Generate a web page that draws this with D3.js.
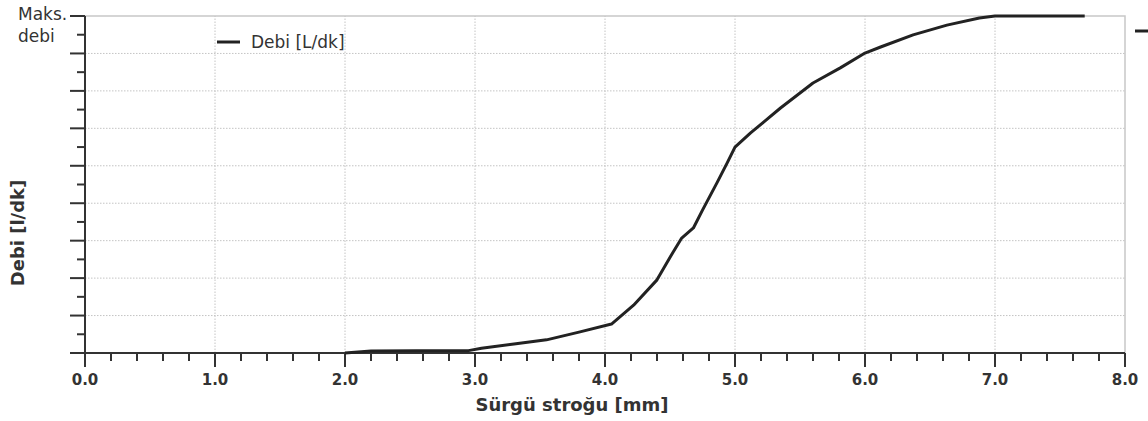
<!DOCTYPE html>
<html>
<head>
<meta charset="utf-8">
<script src="https://cdn.jsdelivr.net/npm/d3@7"></script>
<style>
  body { margin: 0; background: #fff; }
  svg text { font-family: "DejaVu Sans", Verdana, sans-serif; fill: #333; }
</style>
</head>
<body>
<div id="chart"></div>
<script>
// stroke position [mm] and relative flow [% of max]
const stroke = [2.0, 2.2, 2.55, 2.95, 3.05, 3.3, 3.55, 3.8, 4.05, 4.22, 4.4, 4.52, 4.59, 4.68, 4.75, 4.86, 4.94, 5.0, 5.12, 5.22, 5.35, 5.6, 5.81, 6.0, 6.12, 6.37, 6.63, 6.88, 7.0, 7.69];
const flow = [0, 0.6, 0.7, 0.7, 1.4, 2.7, 3.9, 6.2, 8.6, 14.2, 21.7, 29.7, 34.1, 37.1, 42.4, 50.4, 56.4, 61.1, 65.3, 68.5, 72.7, 80.1, 84.6, 89.0, 90.8, 94.4, 97.3, 99.4, 100, 100];
const xTickLabels = ['0.0', '1.0', '2.0', '3.0', '4.0', '5.0', '6.0', '7.0', '8.0'];
const seriesName = 'Debi [L/dk]';

const width = 1148, height = 421;
const margin = { top: 16, right: 23, bottom: 68, left: 85 };

var svg = d3.select('#chart').append('svg')
  .attr('width', width)
  .attr('height', height);

var x = d3.scaleLinear().domain([0, 8]).range([margin.left, width - margin.right]);
var y = d3.scaleLinear().domain([0, 100]).range([height - margin.bottom, margin.top]);

var majorY = d3.range(0, 10).map(i => i * 100 / 9);
var minorY = d3.range(0, 9).map(i => (i + 0.5) * 100 / 9);
var majorX = d3.range(0, 9);
var minorX = d3.range(0, 41).map(i => i * 0.2).filter(v => Math.abs(v - Math.round(v)) > 0.01);

// plot frame (top/right)
svg.append('path')
  .attr('d', `M${x(0)},${y(100)}H${x(8)}V${y(0)}`)
  .attr('fill', 'none')
  .attr('stroke', '#c8c8c8')
  .attr('stroke-width', 1.5);

// dotted grid
svg.append('g').selectAll('line')
  .data(majorX.slice(1, -1)).enter()
  .append('line')
  .attr('x1', d => x(d)).attr('x2', d => x(d))
  .attr('y1', y(0)).attr('y2', y(100))
  .attr('stroke', '#c4c4c4')
  .attr('stroke-dasharray', '1.5,1.5');
svg.append('g').selectAll('line')
  .data(majorY.slice(1, -1)).enter()
  .append('line')
  .attr('x1', x(0)).attr('x2', x(8))
  .attr('y1', d => y(d)).attr('y2', d => y(d))
  .attr('stroke', '#c4c4c4')
  .attr('stroke-dasharray', '1.5,1.5');

// x axis
var xAxis = svg.append('g').attr('transform', `translate(0,${y(0)})`);
xAxis.append('line')
  .attr('x1', x(0) - 15).attr('x2', x(8))
  .attr('stroke', '#333').attr('stroke-width', 2);
xAxis.selectAll('.major').data(majorX).enter()
  .append('line')
  .attr('x1', d => x(d)).attr('x2', d => x(d))
  .attr('y1', 0).attr('y2', 14)
  .attr('stroke', '#333').attr('stroke-width', 2);
xAxis.selectAll('.minor').data(minorX).enter()
  .append('line')
  .attr('x1', d => x(d)).attr('x2', d => x(d))
  .attr('y1', 0).attr('y2', 8)
  .attr('stroke', '#333').attr('stroke-width', 2);
xAxis.selectAll('text').data(majorX).enter()
  .append('text')
  .attr('x', d => x(d))
  .attr('y', 32)
  .attr('text-anchor', 'middle')
  .style('font-size', '15px')
  .style('font-weight', 'bold')
  .text(d => xTickLabels[d]);

// y axis
var yAxis = svg.append('g').attr('transform', `translate(${x(0)},0)`);
yAxis.append('line')
  .attr('y1', y(100)).attr('y2', y(0) + 14)
  .attr('stroke', '#333').attr('stroke-width', 2);
yAxis.selectAll('.major').data(majorY).enter()
  .append('line')
  .attr('x1', -15).attr('x2', 0)
  .attr('y1', d => y(d)).attr('y2', d => y(d))
  .attr('stroke', '#333').attr('stroke-width', 2);
yAxis.selectAll('.minor').data(minorY).enter()
  .append('line')
  .attr('x1', -8).attr('x2', 0)
  .attr('y1', d => y(d)).attr('y2', d => y(d))
  .attr('stroke', '#333').attr('stroke-width', 2);

// "Maks. debi" label at the top of y axis
svg.append('text')
  .attr('x', 18).attr('y', 20)
  .style('font-size', '17px')
  .text('Maks.');
svg.append('text')
  .attr('x', 18).attr('y', 42)
  .style('font-size', '17px')
  .text('debi');

// axis titles
svg.append('text')
  .attr('x', 572)
  .attr('y', 411)
  .attr('text-anchor', 'middle')
  .style('font-size', '18px')
  .style('font-weight', 'bold')
  .text('Sürgü stroğu [mm]');
svg.append('text')
  .attr('transform', 'translate(24,233) rotate(-90)')
  .attr('text-anchor', 'middle')
  .style('font-size', '18px')
  .style('font-weight', 'bold')
  .text('Debi [l/dk]');

// curve
var points = stroke.map((s, i) => [s, flow[i]]);
var line = d3.line()
  .x(d => x(d[0]))
  .y(d => y(d[1]));
svg.append('path')
  .datum(points)
  .attr('d', line)
  .attr('fill', 'none')
  .attr('stroke', '#222')
  .attr('stroke-width', 3)
  .attr('stroke-linejoin', 'round');

// legend
svg.append('line')
  .attr('x1', 217).attr('x2', 240)
  .attr('y1', 42).attr('y2', 42)
  .attr('stroke', '#222').attr('stroke-width', 3);
svg.append('text')
  .attr('x', 251).attr('y', 48)
  .style('font-size', '17px')
  .text(seriesName);

// clipped second legend marker on the right edge
svg.append('line')
  .attr('x1', 1135).attr('x2', 1150)
  .attr('y1', 31).attr('y2', 31)
  .attr('stroke', '#222').attr('stroke-width', 3);
</script>
</body>
</html>
